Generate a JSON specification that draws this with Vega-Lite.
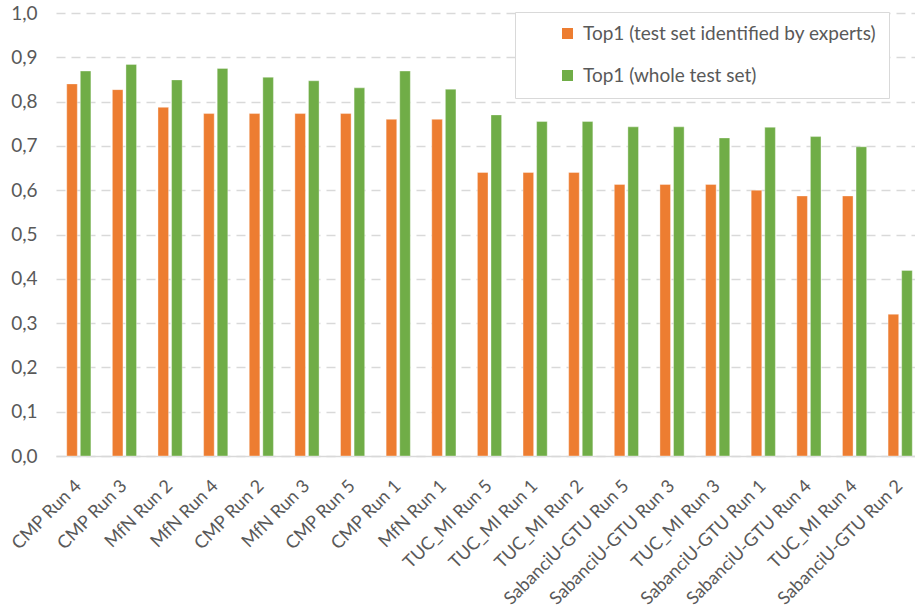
{
  "$schema": "https://vega.github.io/schema/vega-lite/v6.json",
  "autosize": {"type": "none"},
  "width": 867,
  "height": 443,
  "padding": {"left": 56, "top": 13, "right": 0, "bottom": 152},
  "background": "white",
  "config": {
    "view": {"stroke": null},
    "font": "Lato",
    "axis": {"labelFont": "Lato", "labelColor": "#595959"},
    "legend": {"labelFont": "Lato", "labelColor": "#595959"}
  },
  "data": {
    "values": [
      {"run": "CMP Run 4", "series": "Top1 (test set identified by experts)", "value": 0.84},
      {"run": "CMP Run 4", "series": "Top1 (whole test set)", "value": 0.869},
      {"run": "CMP Run 3", "series": "Top1 (test set identified by experts)", "value": 0.827},
      {"run": "CMP Run 3", "series": "Top1 (whole test set)", "value": 0.884},
      {"run": "MfN Run 2", "series": "Top1 (test set identified by experts)", "value": 0.787},
      {"run": "MfN Run 2", "series": "Top1 (whole test set)", "value": 0.849},
      {"run": "MfN Run 4", "series": "Top1 (test set identified by experts)", "value": 0.773},
      {"run": "MfN Run 4", "series": "Top1 (whole test set)", "value": 0.875},
      {"run": "CMP Run 2", "series": "Top1 (test set identified by experts)", "value": 0.773},
      {"run": "CMP Run 2", "series": "Top1 (whole test set)", "value": 0.855},
      {"run": "MfN Run 3", "series": "Top1 (test set identified by experts)", "value": 0.773},
      {"run": "MfN Run 3", "series": "Top1 (whole test set)", "value": 0.847},
      {"run": "CMP Run 5", "series": "Top1 (test set identified by experts)", "value": 0.773},
      {"run": "CMP Run 5", "series": "Top1 (whole test set)", "value": 0.831},
      {"run": "CMP Run 1", "series": "Top1 (test set identified by experts)", "value": 0.76},
      {"run": "CMP Run 1", "series": "Top1 (whole test set)", "value": 0.869},
      {"run": "MfN Run 1", "series": "Top1 (test set identified by experts)", "value": 0.76},
      {"run": "MfN Run 1", "series": "Top1 (whole test set)", "value": 0.828},
      {"run": "TUC_MI Run 5", "series": "Top1 (test set identified by experts)", "value": 0.64},
      {"run": "TUC_MI Run 5", "series": "Top1 (whole test set)", "value": 0.77},
      {"run": "TUC_MI Run 1", "series": "Top1 (test set identified by experts)", "value": 0.64},
      {"run": "TUC_MI Run 1", "series": "Top1 (whole test set)", "value": 0.755},
      {"run": "TUC_MI Run 2", "series": "Top1 (test set identified by experts)", "value": 0.64},
      {"run": "TUC_MI Run 2", "series": "Top1 (whole test set)", "value": 0.755},
      {"run": "SabanciU-GTU Run 5", "series": "Top1 (test set identified by experts)", "value": 0.613},
      {"run": "SabanciU-GTU Run 5", "series": "Top1 (whole test set)", "value": 0.743},
      {"run": "SabanciU-GTU Run 3", "series": "Top1 (test set identified by experts)", "value": 0.613},
      {"run": "SabanciU-GTU Run 3", "series": "Top1 (whole test set)", "value": 0.743},
      {"run": "TUC_MI Run 3", "series": "Top1 (test set identified by experts)", "value": 0.613},
      {"run": "TUC_MI Run 3", "series": "Top1 (whole test set)", "value": 0.718},
      {"run": "SabanciU-GTU Run 1", "series": "Top1 (test set identified by experts)", "value": 0.6},
      {"run": "SabanciU-GTU Run 1", "series": "Top1 (whole test set)", "value": 0.742},
      {"run": "SabanciU-GTU Run 4", "series": "Top1 (test set identified by experts)", "value": 0.587},
      {"run": "SabanciU-GTU Run 4", "series": "Top1 (whole test set)", "value": 0.721},
      {"run": "TUC_MI Run 4", "series": "Top1 (test set identified by experts)", "value": 0.587},
      {"run": "TUC_MI Run 4", "series": "Top1 (whole test set)", "value": 0.698},
      {"run": "SabanciU-GTU Run 2", "series": "Top1 (test set identified by experts)", "value": 0.32},
      {"run": "SabanciU-GTU Run 2", "series": "Top1 (whole test set)", "value": 0.419}
    ]
  },
  "mark": {"type": "bar", "stroke": "white", "strokeWidth": 0.6, "strokeOpacity": 0.6},
  "encoding": {
    "x": {
      "field": "run",
      "type": "nominal",
      "sort": null,
      "scale": {"paddingInner": 0.47, "paddingOuter": 0.235},
      "axis": {
        "title": null,
        "labelAngle": -45,
        "labelAlign": "right",
        "labelBaseline": "middle",
        "labelFontSize": 18,
        "labelPadding": 27,
        "labelLimit": 300,
        "ticks": false,
        "domainColor": "#D9D9D9",
        "domainWidth": 1.5
      }
    },
    "xOffset": {
      "field": "series",
      "type": "nominal",
      "scale": {"paddingInner": 0.22, "paddingOuter": 0}
    },
    "y": {
      "field": "value",
      "type": "quantitative",
      "scale": {"domain": [0, 1], "nice": false},
      "axis": {
        "title": null,
        "values": [0, 0.1, 0.2, 0.3, 0.4, 0.5, 0.6, 0.7, 0.8, 0.9, 1.0],
        "labelExpr": "replace(format(datum.value, '.1f'), '.', ',')",
        "labelFontSize": 19,
        "labelPadding": 19,
        "ticks": false,
        "domain": false,
        "grid": true,
        "gridColor": "#D9D9D9",
        "gridWidth": 1.4,
        "gridDash": [9, 6]
      }
    },
    "color": {
      "field": "series",
      "type": "nominal",
      "scale": {
        "domain": ["Top1 (test set identified by experts)", "Top1 (whole test set)"],
        "range": ["#ED7D31", "#70AD47"]
      },
      "legend": {
        "title": null,
        "orient": "none",
        "legendX": 459,
        "legendY": -1,
        "direction": "vertical",
        "symbolType": "square",
        "symbolSize": 121,
        "symbolStrokeWidth": 0,
        "symbolOffset": 31,
        "labelFontSize": 19,
        "labelOffset": 6,
        "labelLimit": 400,
        "rowPadding": 22,
        "padding": 12,
        "strokeColor": "#D9D9D9",
        "fillColor": "white"
      }
    }
  }
}
